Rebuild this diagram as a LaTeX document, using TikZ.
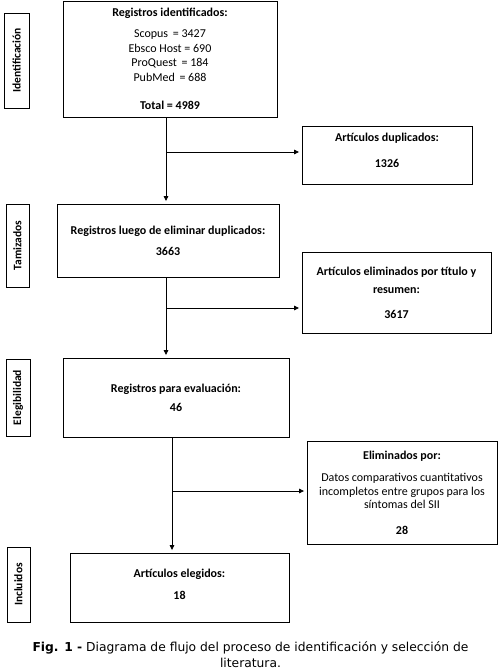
\documentclass[tikz,border=0pt]{standalone}
\usepackage{fontspec}
\usepackage{tikz}
\usetikzlibrary{arrows.meta, calc}
\newfontfamily\calibri{Carlito}
\newfontfamily\verdana{DejaVu Sans}

\begin{document}
\begin{tikzpicture}[x=1pt, y=-1pt,
        box/.style={draw, line width=0.9pt, align=center, inner sep=0pt, font=\calibri\fontsize{12}{14.5}\selectfont},
        stage/.style={box, rotate=90, font=\calibri\bfseries\fontsize{11.5}{12}\selectfont},
        arrow/.style={-{Triangle[length=5pt, width=4.5pt]}, line width=0.7pt, shorten >=2.5pt}
    ]
        \useasboundingbox (0,0) rectangle (501,671);

        \node (identificacion) [stage, minimum width=95, minimum height=25] at (16.5,60.5) {Identificación};
        \node (tamizados) [stage, minimum width=83, minimum height=23] at (17.5,245.5) {Tamizados};
        \node (elegibilidad) [stage, minimum width=77, minimum height=24] at (18,397.5) {Elegibilidad};
        \node (incluidos) [stage, minimum width=75, minimum height=23] at (18.5,584.5) {Incluidos};

        \node (registros) [box, minimum width=214, minimum height=116] at (170,59) {\textbf{Registros identificados:}\\[6.5pt]Scopus \,= 3427\\Ebsco Host = 690\\ProQuest \,= 184\\PubMed \,= 688\\[13.5pt]\textbf{Total = 4989}};
        \node (duplicados) [box, minimum width=170, minimum height=58] at (387,155) {\textbf{Artículos duplicados:}\\[11.5pt]\textbf{1326}\rule[-9pt]{0pt}{9pt}};
        \node (sinduplicados) [box, minimum width=222, minimum height=73] at (168,240.5) {\textbf{Registros luego de eliminar duplicados:}\\[6.5pt]\textbf{3663}};
        \node (titulo) [box, minimum width=189, minimum height=81] at (396.5,292.5) {\textbf{Artículos eliminados por título y}\\[3.5pt]\textbf{resumen:}\\[10.5pt]\textbf{3617}};
        \node (evaluacion) [box, minimum width=226, minimum height=79] at (176,397.5) {\textbf{Registros para evaluación:}\\[4.5pt]\textbf{46}};
        \node (eliminados) [box, minimum width=190, minimum height=103] at (402,492.5) {\textbf{Eliminados por:}\\[7.5pt]Datos comparativos cuantitativos\\[-0.5pt]incompletos entre grupos para los\\[-1.5pt]síntomas del SII\\[11.5pt]\textbf{28}};
        \node (elegidos) [box, minimum width=219, minimum height=69] at (179.5,587.5) {\textbf{Artículos elegidos:}\\[7.5pt]\textbf{18}\rule[-7pt]{0pt}{7pt}};

        \node (caption) [align=center, font=\verdana\fontsize{12.3}{16}\selectfont] at (250.5,655) {\textbf{Fig. 1 -} Diagrama de flujo del proceso de identificación y selección de\\literatura.};

        \coordinate (split1) at (166,152);
        \coordinate (split2) at (166,308);
        \coordinate (split3) at (172,491);

        \draw [arrow] (split1 |- registros.south) -- (split1 |- sinduplicados.north);
        \draw [arrow] (split1) -- (split1 -| duplicados.west);
        \draw [arrow] (split2 |- sinduplicados.south) -- (split2 |- evaluacion.north);
        \draw [arrow] (split2) -- (split2 -| titulo.west);
        \draw [arrow] (split3 |- evaluacion.south) -- (split3 |- elegidos.north);
        \draw [arrow] (split3) -- (split3 -| eliminados.west);
    \end{tikzpicture}
\end{document}
